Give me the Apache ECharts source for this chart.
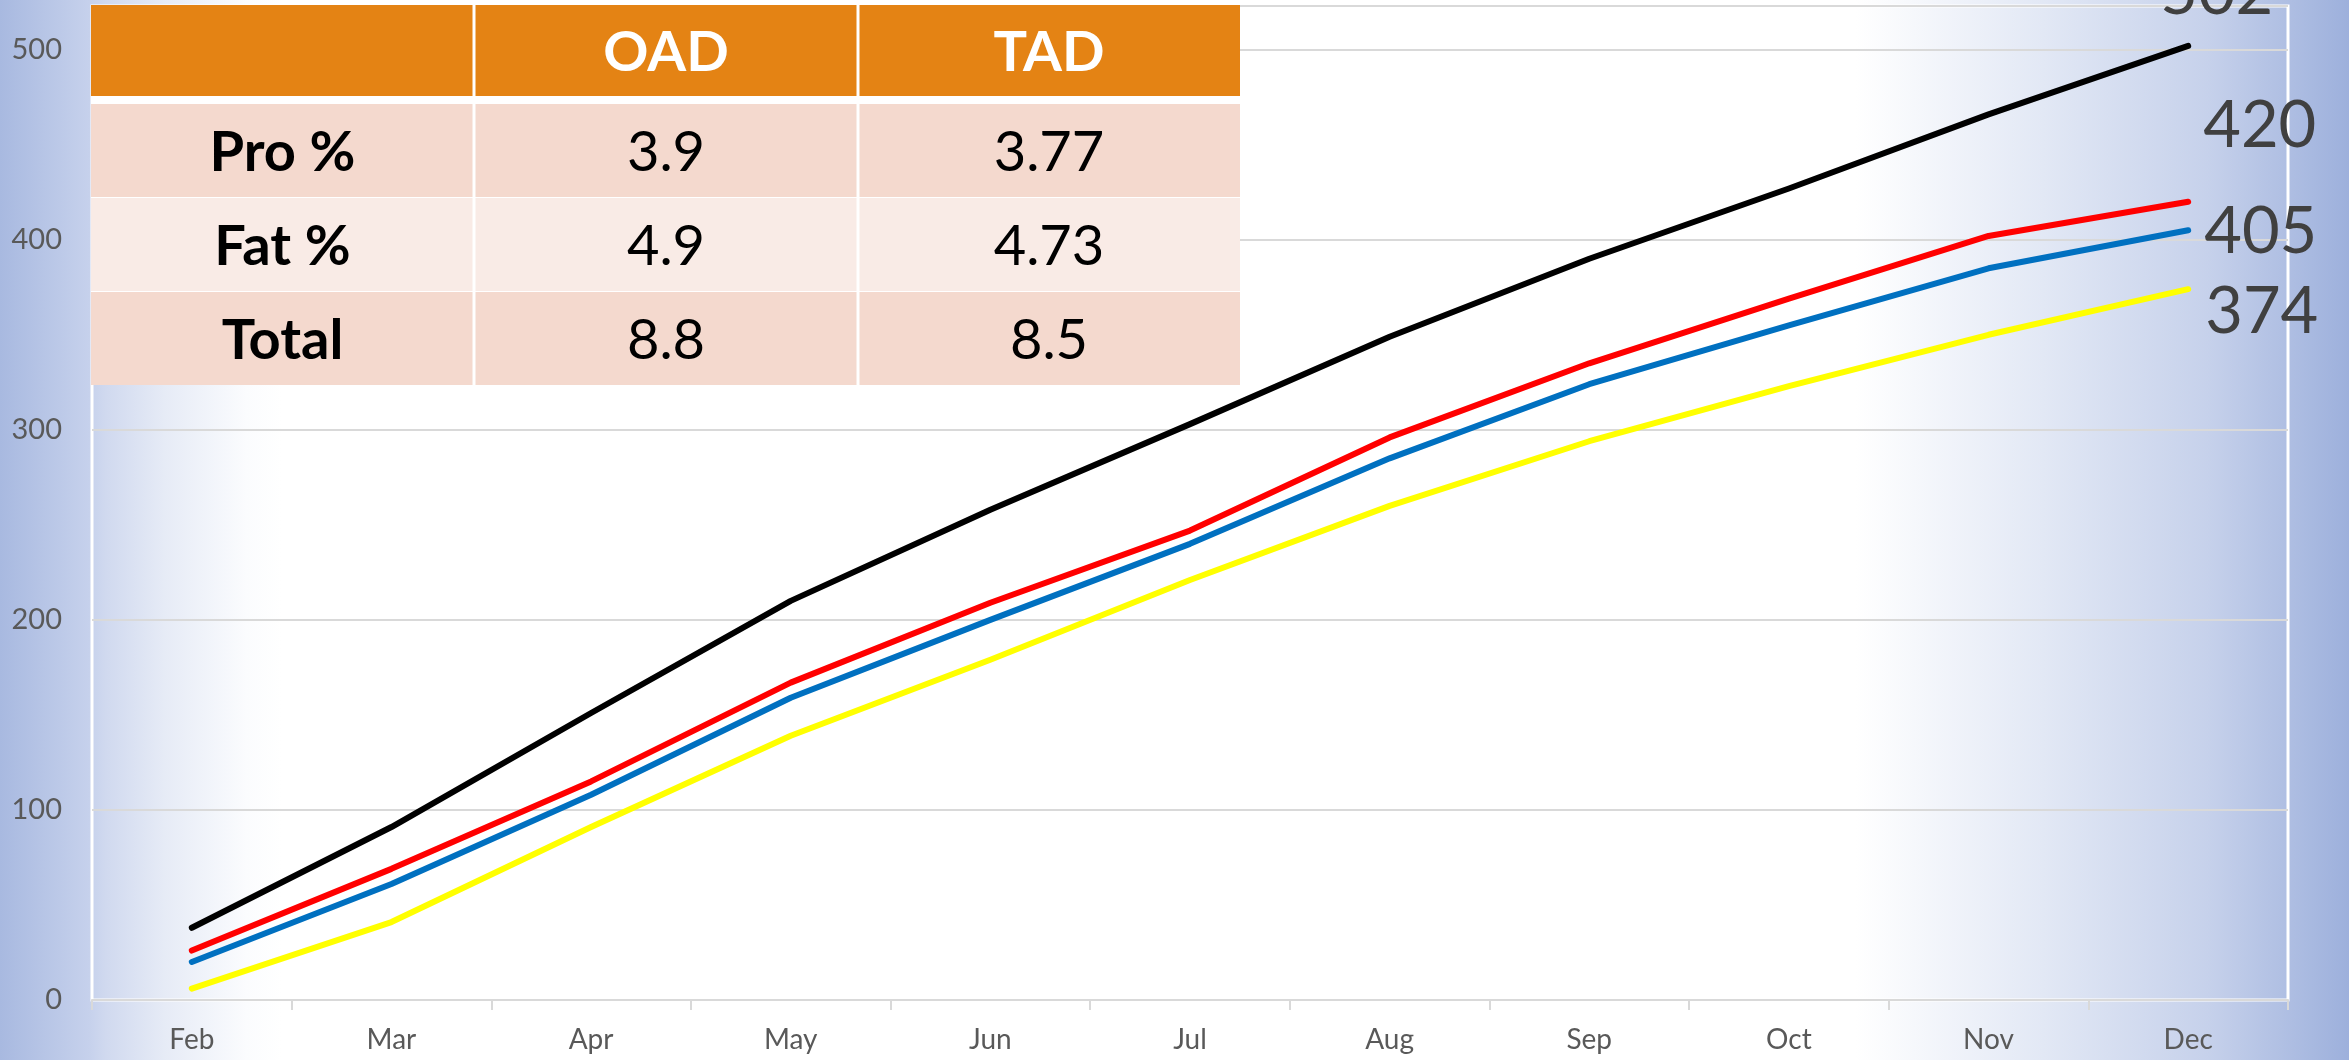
<!DOCTYPE html>
<html lang="en">
<head>
    <meta charset="UTF-8">
    <title>Cumulative solids</title>
    <style>
        html, body { margin: 0; padding: 0; }
        #main { width: 2349px; height: 1060px; }
    </style>
    <script src="https://cdn.jsdelivr.net/npm/echarts@6/dist/echarts.min.js"></script>
</head>
<body>
<div id="main"></div>
<script type="text/javascript">

    // data
    var months = ['Feb', 'Mar', 'Apr', 'May', 'Jun', 'Jul', 'Aug', 'Sep', 'Oct', 'Nov', 'Dec'];
    var blackLine  = [38, 91, 151, 210, 258, 303, 349, 390, 427, 466, 502];
    var redLine    = [26, 69, 115, 167, 209, 247, 296, 335, 369, 402, 420];
    var blueLine   = [20, 61, 108, 159, 200, 240, 285, 324, 355, 385, 405];
    var yellowLine = [6, 41, 91, 139, 179, 221, 260, 294, 323, 350, 374];

    // the small table in the top left corner
    var tableHead = ['', 'OAD', 'TAD'];
    var tableRows = [
        ['Pro %', '3.9', '3.77'],
        ['Fat %', '4.9', '4.73'],
        ['Total', '8.8', '8.5']
    ];

    var FONT = 'Lato, "Noto Sans", sans-serif';

    // table layout
    var colEdges = [91, 474, 858, 1240];
    var headTop = 5, headH = 91;
    var rowTop = [104, 198, 292], rowH = 93;
    var rowFill = ['#f4d9ce', '#f9ebe6', '#f4d9ce'];

    var graphics = [];
    // white backing
    graphics.push({
        type: 'rect', z: 10,
        shape: { x: colEdges[0], y: headTop, width: colEdges[3] - colEdges[0], height: rowTop[2] + rowH - headTop },
        style: { fill: '#ffffff' }
    });
    for (var c = 0; c < 3; c++) {
        var x0 = colEdges[c] + (c > 0 ? 1.5 : 0);
        var x1 = colEdges[c + 1] - (c < 2 ? 1.5 : 0);
        graphics.push({
            type: 'rect', z: 11,
            shape: { x: x0, y: headTop, width: x1 - x0, height: headH },
            style: { fill: '#e48314' }
        });
        if (tableHead[c]) {
            graphics.push({
                type: 'text', z: 12,
                x: (colEdges[c] + colEdges[c + 1]) / 2, y: headTop + headH / 2 + 2,
                style: { text: tableHead[c], fill: '#ffffff', font: 'bold 56px ' + FONT, align: 'center', verticalAlign: 'middle' }
            });
        }
        for (var r = 0; r < tableRows.length; r++) {
            graphics.push({
                type: 'rect', z: 11,
                shape: { x: x0, y: rowTop[r], width: x1 - x0, height: rowH },
                style: { fill: rowFill[r] }
            });
            graphics.push({
                type: 'text', z: 12,
                x: (colEdges[c] + colEdges[c + 1]) / 2, y: rowTop[r] + rowH / 2 + 2,
                style: {
                    text: tableRows[r][c], fill: '#000000',
                    font: (c === 0 ? 'bold ' : '') + '56px ' + FONT,
                    align: 'center', verticalAlign: 'middle'
                }
            });
        }
    }

    function lineSeries(name, data, color, off) {
        return {
            name: name,
            type: 'line',
            data: data,
            symbol: 'none',
            lineStyle: { color: color, width: 6, cap: 'round', join: 'round' },
            itemStyle: { color: color },
            endLabel: {
                show: true,
                formatter: '{c}',
                distance: 0,
                offset: off,
                color: '#404040',
                fontFamily: FONT,
                fontSize: 65
            },
            z: 3
        };
    }

    var myChart = echarts.init(document.getElementById('main'));
    var option = {
        animation: false,
        backgroundColor: {
            type: 'linear', x: 0, y: 0, x2: 1, y2: 0,
            colorStops: [
                { offset: 0, color: '#a8b9e0' },
                { offset: 0.038, color: '#c6d1ec' },
                { offset: 0.045, color: '#d0d9ef' },
                { offset: 0.07, color: '#e6ebf6' },
                { offset: 0.105, color: '#fbfcfe' },
                { offset: 0.12, color: '#ffffff' },
                { offset: 0.79, color: '#ffffff' },
                { offset: 0.87, color: '#e2e8f5' },
                { offset: 0.94, color: '#c6d1eb' },
                { offset: 1, color: '#9db0dc' }
            ]
        },
        grid: {
            left: 92, right: 61, top: 6, bottom: 60,
            show: true,
            backgroundColor: 'transparent',
            borderColor: '#ffffff',
            borderWidth: 3
        },
        xAxis: {
            type: 'category',
            data: months,
            boundaryGap: true,
            axisLine: { show: true, lineStyle: { color: '#d9d9d9', width: 2 } },
            axisTick: { show: true, length: 10, lineStyle: { color: '#d9d9d9', width: 2 } },
            axisLabel: { color: '#595959', fontFamily: FONT, fontSize: 28, margin: 26 }
        },
        yAxis: {
            type: 'value',
            min: 0,
            max: 523,
            interval: 100,
            axisLine: { show: false },
            axisTick: { show: false },
            axisLabel: { color: '#595959', fontFamily: FONT, fontSize: 29, margin: 30, showMaxLabel: false },
            splitLine: { lineStyle: { color: '#d9d9d9', width: 2 } }
        },
        series: [
            lineSeries('Black', blackLine, '#000000', [-28, -53]),
            lineSeries('Red', redLine, '#ff0000', [15, -76]),
            lineSeries('Blue', blueLine, '#0070c0', [16, 2]),
            lineSeries('Yellow', yellowLine, '#ffff00', [17, 23])
        ],
        graphic: graphics
    };
    myChart.setOption(option);

</script>
</body>
</html>
